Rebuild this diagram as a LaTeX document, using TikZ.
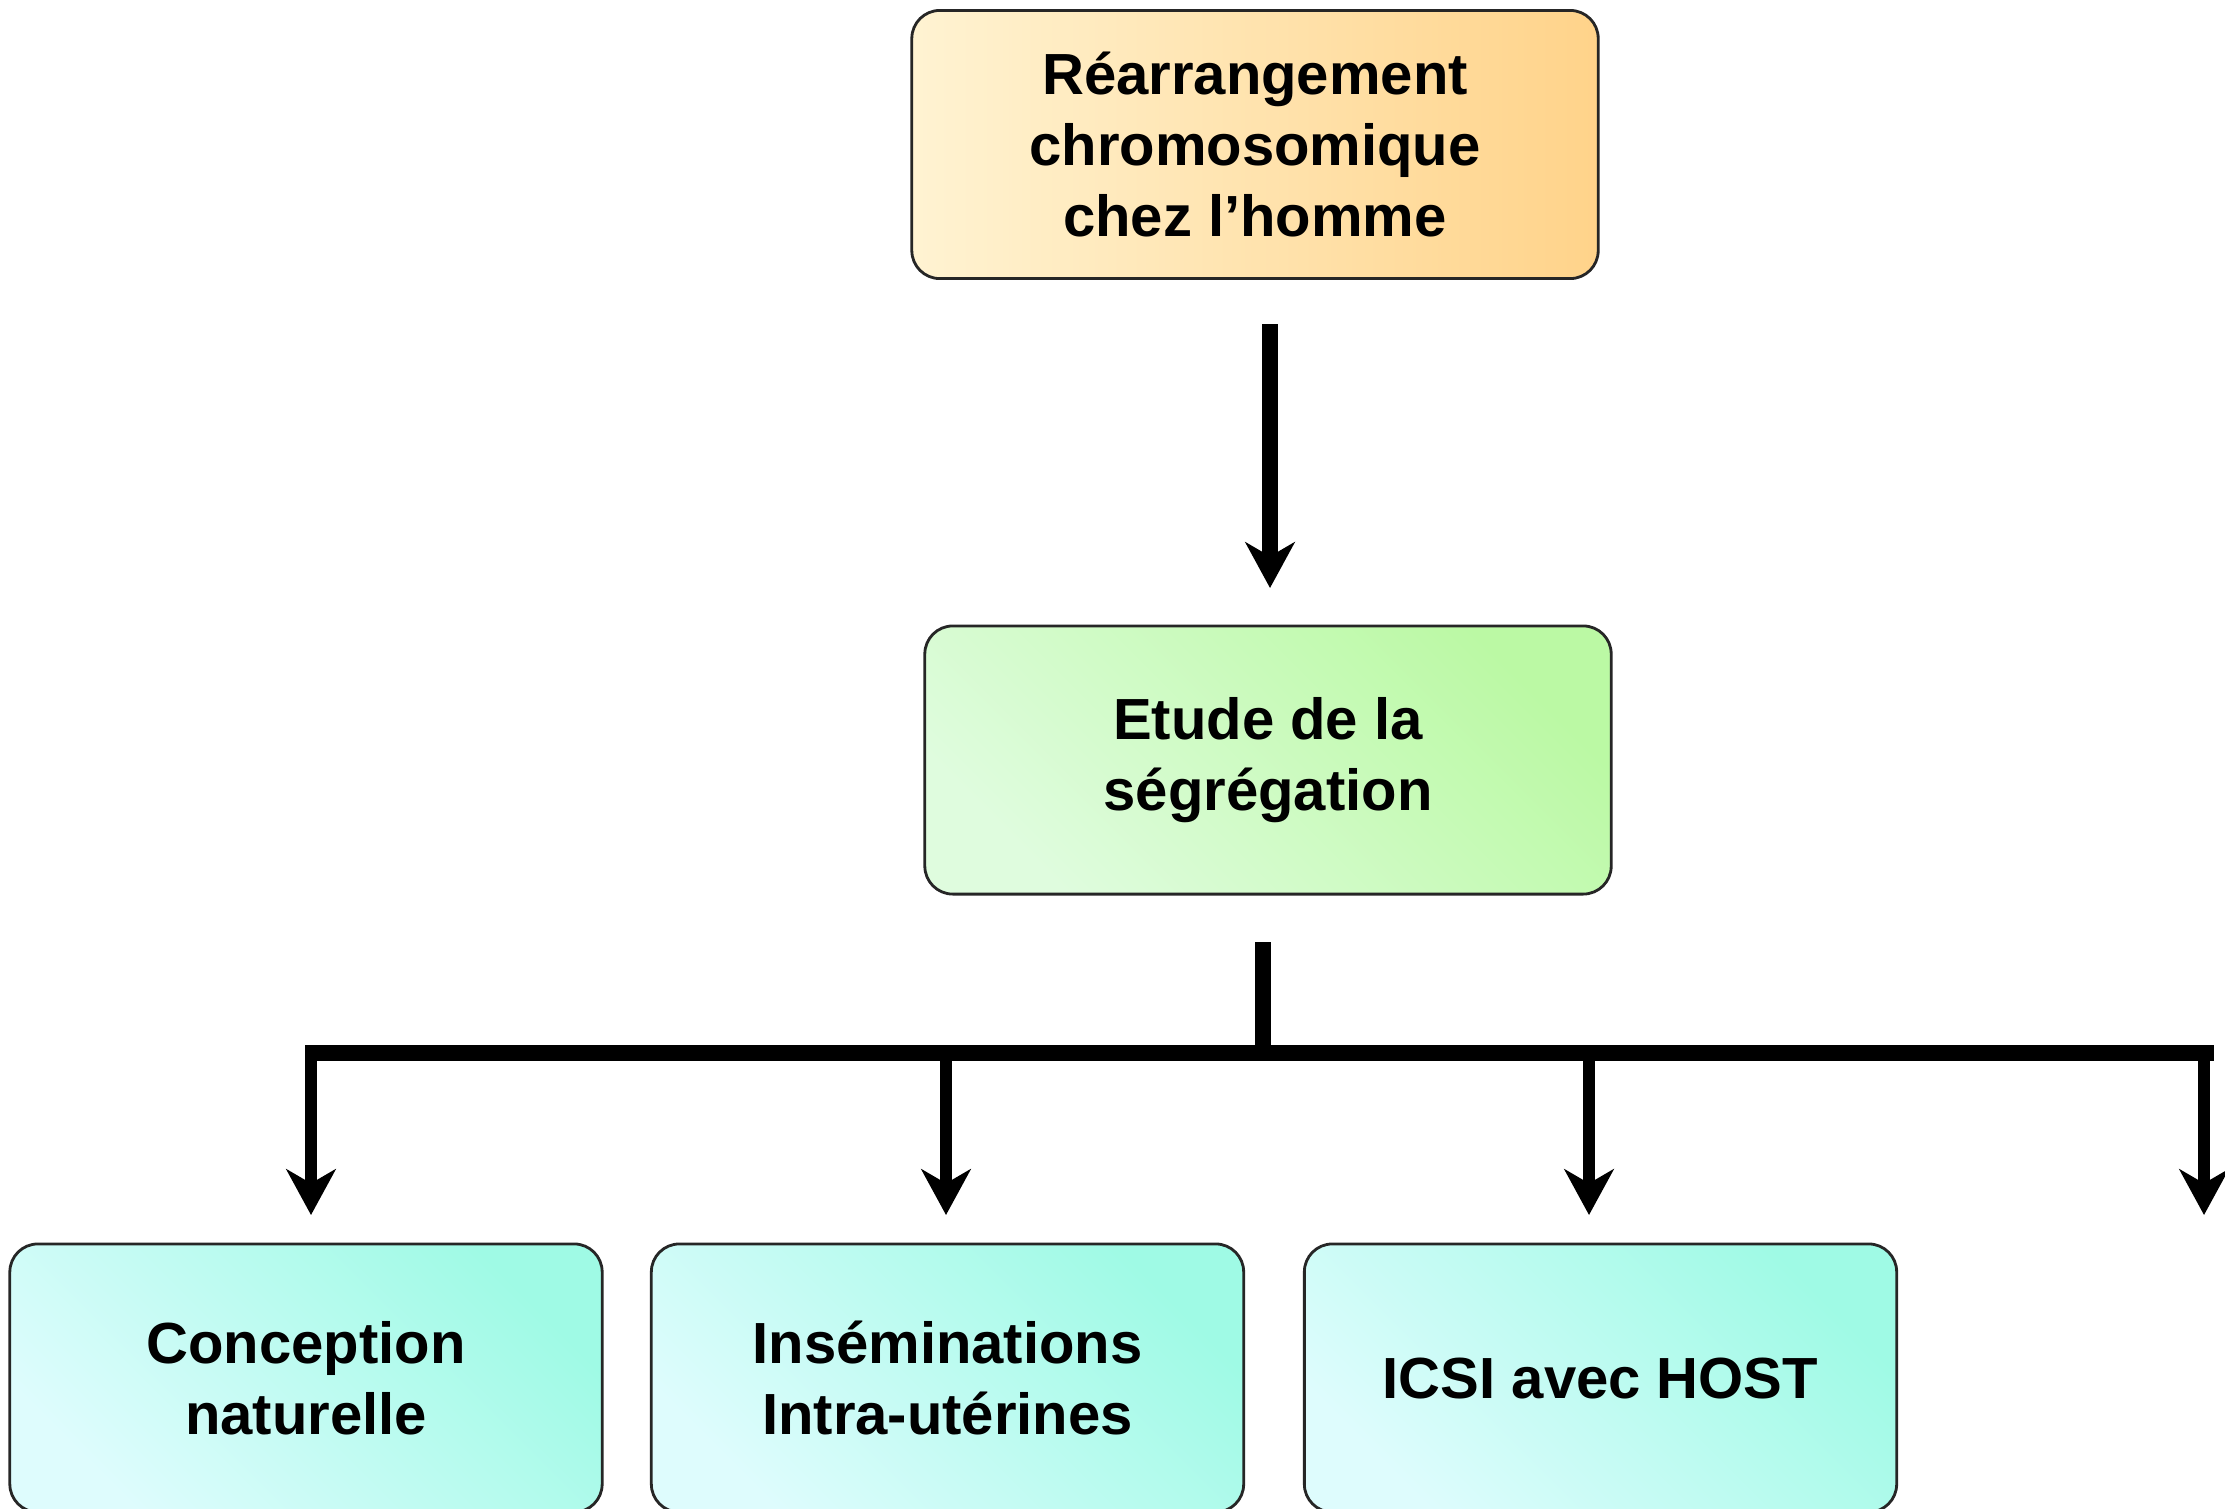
\documentclass[tikz,border=0pt]{standalone}
\usepackage{fontspec}
\setmainfont{Liberation Sans}
\usetikzlibrary{arrows.meta}
\definecolor{creme}{HTML}{FFF3D2}
\definecolor{orangeclair}{HTML}{FFD38A}
\definecolor{vertclair}{HTML}{DFFCDE}
\definecolor{vertfonce}{HTML}{BBF9A4}
\definecolor{cyanclair}{HTML}{DEFCFD}
\definecolor{cyanfonce}{HTML}{9FFAE5}
\tikzset{
  boite/.style={draw=black!85, line width=0.8pt, rounded corners=0.28cm, align=center,
    font=\bfseries\fontsize{16.5}{20.2}\selectfont, minimum height=2.68cm, inner sep=0pt},
  rearr/.style={boite, minimum width=6.86cm, left color=creme, right color=orangeclair},
  segreg/.style={boite, minimum width=6.86cm, left color=vertclair, right color=vertfonce, shading angle=135},
  methode/.style={boite, minimum width=5.92cm, left color=cyanclair, right color=cyanfonce, shading angle=135},
  fleche/.style={line width=3.3pt, -{Stealth[length=13pt,width=14pt,inset=4pt]}},
  barre/.style={line width=4.5pt}
}
\begin{document}
\begin{tikzpicture}[x=0.01cm,y=-0.01cm]
	  \useasboundingbox (0,0) rectangle (2225,1508);
	  \node[rearr] (rea) at (1255,144.5) {Réarrangement\\chromosomique\\chez l’homme};
	  \node[segreg] (seg) at (1268,760) {Etude de la\\ségrégation};
	  \node[methode] (cn) at (306,1378) {Conception\\naturelle};
	  \node[methode] (iiu) at (947.5,1378) {Inséminations\\Intra-utérines};
	  \node[methode] (icsi) at (1600.5,1378) {ICSI avec HOST};
	  \coordinate (a0) at (1270,324);
	  \coordinate (a1) at (1270,588);
	  \coordinate (s0) at (1263,942);
	  \coordinate (s1) at (1263,1053);
	  \coordinate (g) at (305,1053);
	  \coordinate (d) at (2214,1053);
	  \draw[fleche, line width=4.7pt] (a0) -- (a1);
	  \draw[barre] (s0) -- (s1);
	  \draw[barre] (g) -- (d);
	  \foreach \x/\n in {311/1,946/2,1589/3,2204/4} {
	    \coordinate (h\n) at (\x,1053);
	    \coordinate (b\n) at (\x,1215);
	    \draw[fleche] (h\n) -- (b\n);
	  }
\end{tikzpicture}
\end{document}
